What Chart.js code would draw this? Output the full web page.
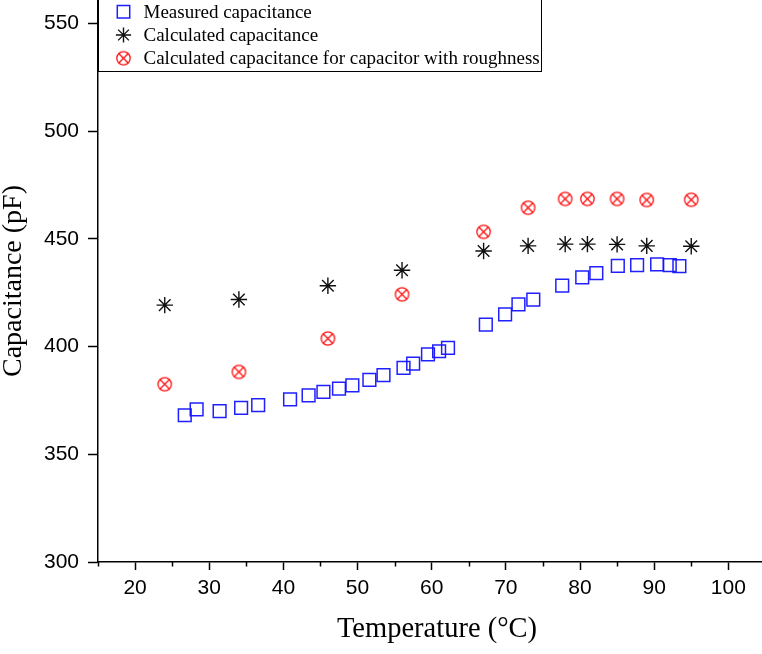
<!DOCTYPE html>
<html>
<head>
<meta charset="utf-8">
<script src="https://cdn.jsdelivr.net/npm/chart.js@4/dist/chart.umd.min.js"></script>
<style>
  html, body { margin: 0; padding: 0; background: #fff; overflow: hidden; width: 762px; height: 654px; }
  canvas { display: block; }
</style>
</head>
<body>
<canvas id="chart" width="776" height="654"></canvas>
<script>
// Temperature (°C) and capacitance (pF) readings
const measuredTemp = [26.7, 28.3, 31.4, 34.3, 36.6, 40.9, 43.4, 45.4, 47.5, 49.3, 51.6, 53.5, 56.2, 57.5, 59.5, 61.0, 62.2,
                      67.3, 69.9, 71.7, 73.7, 77.6, 80.3, 82.2, 85.1, 87.7, 90.4, 92.1, 93.4];
const measuredCap  = [368.1, 370.8, 370.0, 371.5, 372.8, 375.5, 377.3, 378.9, 380.5, 382.0, 384.5, 386.7, 390.1, 392.1, 396.4, 397.8, 399.4,
                      410.2, 414.9, 419.5, 421.8, 428.3, 432.1, 434.1, 437.4, 437.8, 438.1, 437.8, 437.3];
const calcTemp     = [24, 34, 46, 56, 67, 73, 78, 81, 85, 89, 95];
const calcCap      = [419.2, 421.8, 428.2, 435.4, 444.3, 446.7, 447.5, 447.5, 447.4, 446.7, 446.5];
const roughCap     = [382.5, 388.2, 403.7, 424.2, 453.2, 464.4, 468.5, 468.5, 468.5, 468.0, 468.1];

const seriesLabels = ['Measured capacitance', 'Calculated capacitance', 'Calculated capacitance for capacitor with roughness'];
const xTicks      = [20, 30, 40, 50, 60, 70, 80, 90, 100];
const xMinorTicks = [15, 25, 35, 45, 55, 65, 75, 85, 95, 105];
const yTicks      = [300, 350, 400, 450, 500, 550];

const SANS  = '"Liberation Sans", Arial, sans-serif';
const SERIF = '"Liberation Serif", "Times New Roman", serif';

// circle with a diagonal cross, used as a point style
function crossedCircle(color, r, lw) {
  const size = Math.ceil(2 * r + lw + 2);
  const cv = document.createElement('canvas');
  cv.width = size; cv.height = size;
  const g = cv.getContext('2d');
  const c = size / 2, d = r * Math.SQRT1_2;
  g.strokeStyle = color; g.lineWidth = lw;
  g.beginPath(); g.arc(c, c, r, 0, Math.PI * 2); g.stroke();
  g.beginPath();
  g.moveTo(c - d, c - d); g.lineTo(c + d, c + d);
  g.moveTo(c - d, c + d); g.lineTo(c + d, c - d);
  g.stroke();
  return cv;
}
const roughMarker = crossedCircle('#ff1010', 6.7, 1.3);

const pairs = (xs, ys) => xs.map((x, i) => ({ x, y: ys[i] }));

// minor tick marks along the temperature axis
const minorTicks = {
  id: 'minorTicks',
  afterDraw(chart) {
    const s = chart.scales.x, ctx = chart.ctx;
    ctx.save();
    ctx.strokeStyle = '#000';
    ctx.lineWidth = 1.5;
    ctx.beginPath();
    xMinorTicks.forEach(v => {
      if (v < s.min || v > s.max) return;
      const px = Math.round(s.getPixelForValue(v)) + 0.5;
      ctx.moveTo(px, s.top);
      ctx.lineTo(px, s.top + 4.5);
    });
    ctx.stroke();
    ctx.restore();
  }
};

// framed legend in the upper-left corner of the plot
const framedLegend = {
  id: 'framedLegend',
  afterDraw(chart) {
    const { ctx, chartArea } = chart;
    const ds = chart.data.datasets;
    const rowGap = 23.2, firstRow = 11.8;
    const markerX = chartArea.left + 25.5;
    const textX = chartArea.left + 45.5;
    ctx.save();
    ctx.font = '19px ' + SERIF;
    let textW = 0;
    ds.forEach(d => { textW = Math.max(textW, ctx.measureText(d.label).width); });
    const top = chartArea.top - 1;
    const bottom = chartArea.top + firstRow + rowGap * (ds.length - 1) + 12.7;
    const right = textX + textW + 1.5;
    ctx.strokeStyle = '#000';
    ctx.lineWidth = 1;
    ctx.strokeRect(Math.round(chartArea.left) + 0.5, top + 0.5, Math.round(right - chartArea.left), Math.round(bottom - top));
    ds.forEach((d, i) => {
      const y = chartArea.top + firstRow + rowGap * i;
      ctx.save();
      ctx.strokeStyle = d.borderColor;
      ctx.fillStyle = 'rgba(0,0,0,0)';
      ctx.lineWidth = d.borderWidth;
      Chart.helpers.drawPoint(ctx, { pointStyle: d.pointStyle, radius: d.legendRadius, borderWidth: d.borderWidth, rotation: 0 }, markerX, y);
      ctx.restore();
      ctx.fillStyle = '#000';
      ctx.textBaseline = 'middle';
      ctx.textAlign = 'left';
      ctx.fillText(d.label, textX, y + 1);
    });
    ctx.restore();
  }
};

new Chart(document.getElementById('chart'), {
  type: 'scatter',
  data: {
    datasets: [
      {
        label: seriesLabels[0],
        data: pairs(measuredTemp, measuredCap),
        pointStyle: 'rect',
        pointRadius: 9,
        legendRadius: 8.8,
        borderColor: 'rgba(20,20,255,0.95)',
        backgroundColor: 'rgba(0,0,0,0)',
        borderWidth: 1.5
      },
      {
        label: seriesLabels[1],
        data: pairs(calcTemp, calcCap),
        pointStyle: 'star',
        pointRadius: 8.2,
        legendRadius: 7.6,
        borderColor: '#111',
        backgroundColor: 'rgba(0,0,0,0)',
        borderWidth: 1.4
      },
      {
        label: seriesLabels[2],
        data: pairs(calcTemp, roughCap),
        pointStyle: roughMarker,
        pointRadius: 7,
        legendRadius: 7,
        borderColor: '#ff1010',
        backgroundColor: 'rgba(0,0,0,0)',
        borderWidth: 1.3
      }
    ]
  },
  options: {
    responsive: false,
    animation: false,
    layout: { padding: 0, autoPadding: false },
    plugins: { legend: { display: false }, tooltip: { enabled: false } },
    scales: {
      x: {
        type: 'linear',
        min: 15,
        max: 106.43,
        afterBuildTicks: s => { s.ticks = xTicks.map(v => ({ value: v })); },
        afterFit: s => { s.height = 92; s.paddingLeft = 0; s.paddingRight = 0; },
        ticks: {
          autoSkip: false, maxRotation: 0, padding: 6, color: '#000',
          font: { family: SANS, size: 21 }
        },
        grid: { drawOnChartArea: false, drawTicks: true, tickLength: 8, tickColor: '#000', tickWidth: 1.5 },
        border: { display: true, color: '#000', width: 1.5 },
        title: {
          display: true, text: 'Temperature (°C)', color: '#000',
          font: { family: SERIF, size: 28.5, lineHeight: 1 },
          padding: { top: 0, bottom: 10 }
        }
      },
      y: {
        type: 'linear',
        min: 300,
        max: 560.8,
        afterBuildTicks: s => { s.ticks = yTicks.map(v => ({ value: v })); },
        afterFit: s => { s.width = 98; s.paddingTop = 0; s.paddingBottom = 0; },
        ticks: {
          autoSkip: false, padding: 9, color: '#000',
          font: { family: SANS, size: 21 }
        },
        grid: { drawOnChartArea: false, drawTicks: true, tickLength: 10, tickColor: '#000', tickWidth: 1.5 },
        border: { display: true, color: '#000', width: 1.5 },
        title: {
          display: true, text: 'Capacitance (pF)', color: '#000',
          font: { family: SERIF, size: 28, lineHeight: 1 },
          padding: { top: 0, bottom: 0 }
        }
      }
    }
  },
  plugins: [minorTicks, framedLegend]
});
</script>
</body>
</html>
